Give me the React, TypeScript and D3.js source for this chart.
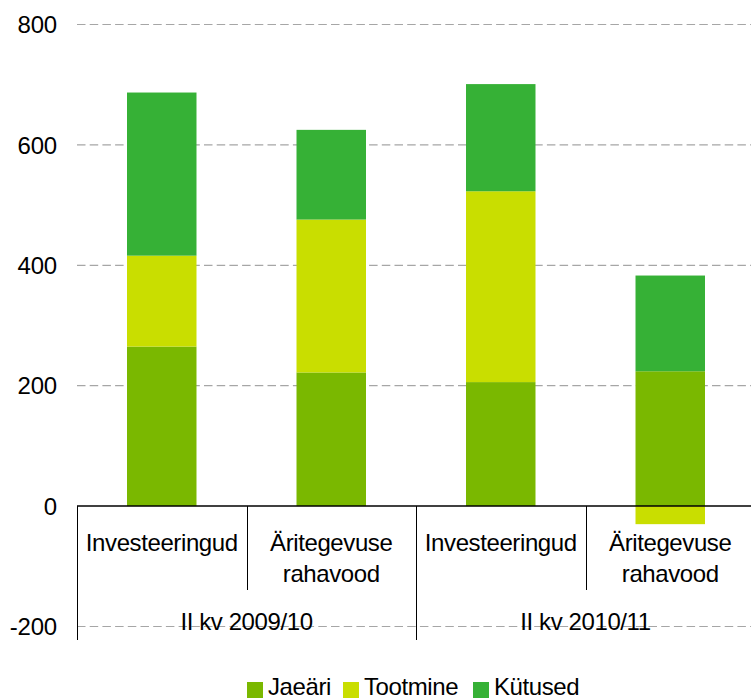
import React from "react";
import * as d3 from "d3";

const categories = ["Investeeringud", "Äritegevuse rahavood", "Investeeringud", "Äritegevuse rahavood"];
const categoryLines = [["Investeeringud"], ["Äritegevuse", "rahavood"], ["Investeeringud"], ["Äritegevuse", "rahavood"]];
const groups = ["II kv 2009/10", "II kv 2010/11"];
const seriesNames = ["Jaeäri", "Tootmine", "Kütused"];
const jaeari = [265, 222, 206, 224];
const tootmine = [151, 254, 317, -30];
const kytused = [271, 149, 178, 159];
const yTicks = [-200, 0, 200, 400, 600, 800];
const colors = ["#7AB800", "#C9DE00", "#36B136"];

const W = 751;
const H = 698;
const FONT = "'Liberation Sans', Arial, sans-serif";

export default function App() {
  const left = 77;
  const right = 755;
  const y = d3.scaleLinear().domain([-200, 800]).range([626.5, 24.5]);
  const x = d3.scaleBand<number>().domain(d3.range(categories.length)).range([left, right]).padding(0);
  const barW = x.bandwidth() * 0.41;

  const rows = categories.map((c, i) => ({
    i,
    [seriesNames[0]]: jaeari[i],
    [seriesNames[1]]: tootmine[i],
    [seriesNames[2]]: kytused[i],
  }));
  const stack = d3.stack<any>().keys(seriesNames).offset(d3.stackOffsetDiverging);
  const layers = stack(rows);

  const y0 = y(0);
  const fs = 24;
  const ls = -0.4;

  const legendItems = [
    { name: seriesNames[0], x: 247 },
    { name: seriesNames[1], x: 343 },
    { name: seriesNames[2], x: 473 },
  ];

  return (
    <svg width={W} height={H} style={{ position: "absolute", left: 0, top: 0, background: "#fff" }} fontFamily={FONT}>
      {yTicks.filter((t) => t !== 0).map((t) => (
        <line key={t} x1={left} x2={W} y1={y(t)} y2={y(t)} stroke="#A6A6A6" strokeWidth={1.2} strokeDasharray="8.5,4.2" />
      ))}
      {yTicks.map((t) => (
        <text key={"l" + t} x={57} y={y(t)} dy="0.36em" textAnchor="end" fontSize={fs} letterSpacing={-0.2} fill="#000">
          {t}
        </text>
      ))}
      {layers.map((layer, li) => (
        <g key={layer.key} fill={colors[li]}>
          {layer.map((d, i) => {
            const top = y(Math.max(d[0], d[1]));
            const bot = y(Math.min(d[0], d[1]));
            return (
              <rect key={i} x={(x(i) as number) + x.bandwidth() / 2 - barW / 2} y={top} width={barW} height={Math.max(0, bot - top)} />
            );
          })}
        </g>
      ))}
      <line x1={left} x2={W} y1={y0} y2={y0} stroke="#000" strokeWidth={1.5} />
      {categories.map((c, i) => {
        const xx = Math.round(x(i) as number) + 0.5;
        const isGroup = i % 2 === 0;
        return <line key={"s" + i} x1={xx} x2={xx} y1={y0} y2={isGroup ? 640 : 590} stroke="#000" strokeWidth={1} />;
      })}
      {categoryLines.map((lines, i) => (
        <text key={"c" + i} x={(x(i) as number) + x.bandwidth() / 2} y={551} textAnchor="middle" fontSize={fs} letterSpacing={ls} fill="#000">
          {lines.map((ln, k) => (
            <tspan key={k} x={(x(i) as number) + x.bandwidth() / 2} dy={k === 0 ? 0 : 31}>
              {ln}
            </tspan>
          ))}
        </text>
      ))}
      {groups.map((g, gi) => {
        const cx = ((x(gi * 2) as number) + (x(gi * 2 + 1) as number) + x.bandwidth()) / 2;
        return (
          <text key={"g" + gi} x={cx} y={630} textAnchor="middle" fontSize={fs} letterSpacing={ls} fill="#000">
            {g}
          </text>
        );
      })}
      {legendItems.map((it, i) => (
        <g key={"lg" + i}>
          <rect x={it.x} y={682} width={16} height={16} fill={colors[i]} />
          <text x={it.x + 21} y={694.5} fontSize={fs} letterSpacing={ls} fill="#000">
            {it.name}
          </text>
        </g>
      ))}
    </svg>
  );
}
